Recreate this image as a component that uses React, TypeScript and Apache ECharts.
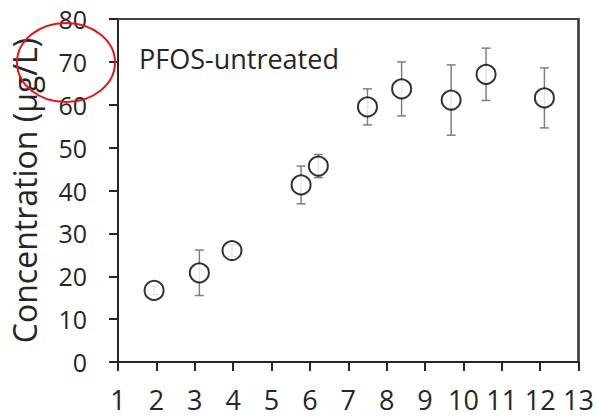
import React, { useEffect, useRef } from "react";
import * as echarts from "echarts";

const xValues = [1.94, 3.12, 3.97, 5.77, 6.22, 7.5, 8.39, 9.68, 10.59, 12.11];
const yValues = [16.7, 20.8, 26.0, 41.3, 45.7, 59.5, 63.7, 61.1, 67.1, 61.6];
const errValues = [1.0, 5.3, 1.4, 4.4, 2.7, 4.2, 6.3, 8.2, 6.1, 7.0];
const seriesLabel = "PFOS-untreated";
const yAxisTitle = "Concentration (μg/L)";

const FONT = "Open Sans";
const AXIS_COLOR = "#262626";

export default function App() {
  const ref = useRef<HTMLDivElement>(null);
  useEffect(() => {
    if (!ref.current) return;
    const chart = echarts.init(ref.current, null, { renderer: "svg" });
    const points = xValues.map((x, i) => [x, yValues[i]]);
    const errData = xValues.map((x, i) => [x, yValues[i], errValues[i]]);
    chart.setOption({
      animation: false,
      backgroundColor: "#fff",
      textStyle: { fontFamily: FONT },
      grid: { left: 114.5, right: 18, top: 19, bottom: 57 },
      xAxis: [
        {
          type: "value",
          min: 1,
          max: 13,
          interval: 1,
          axisLine: { show: true, onZero: false, lineStyle: { color: AXIS_COLOR, width: 2 } },
          axisTick: { show: true, inside: false, length: 9, lineStyle: { color: AXIS_COLOR, width: 2 } },
          axisLabel: { color: AXIS_COLOR, fontSize: 27, lineHeight: 28, fontFamily: FONT, margin: 23 },
          splitLine: { show: false },
        },
        {
          type: "value",
          position: "top",
          min: 1,
          max: 13,
          axisLine: { show: true, onZero: false, lineStyle: { color: "#444", width: 2 } },
          axisTick: { show: false },
          axisLabel: { show: false },
          splitLine: { show: false },
        },
      ],
      yAxis: [
        {
          type: "value",
          min: 0,
          max: 80,
          interval: 10,
          name: yAxisTitle,
          nameLocation: "middle",
          nameGap: 78,
          nameTextStyle: { color: AXIS_COLOR, fontSize: 32, fontFamily: FONT },
          axisLine: { show: true, onZero: false, lineStyle: { color: AXIS_COLOR, width: 2 } },
          axisTick: { show: true, inside: false, length: 9, lineStyle: { color: AXIS_COLOR, width: 2 } },
          axisLabel: { color: AXIS_COLOR, fontSize: 25, fontFamily: FONT, margin: 31 },
          splitLine: { show: false },
        },
        {
          type: "value",
          position: "right",
          min: 0,
          max: 80,
          axisLine: { show: true, onZero: false, lineStyle: { color: "#333", width: 2.5 } },
          axisTick: { show: false },
          axisLabel: { show: false },
          splitLine: { show: false },
        },
      ],
      series: [
        {
          type: "custom",
          xAxisIndex: 0,
          yAxisIndex: 0,
          data: errData,
          encode: { x: 0, y: 1 },
          z: 1,
          renderItem: (params: any, api: any) => {
            const x = api.value(0);
            const y = api.value(1);
            const e = api.value(2);
            const top = api.coord([x, y + e]);
            const bot = api.coord([x, y - e]);
            const w = 4.5;
            const style = { stroke: "#7f7f7f", lineWidth: 1.5 };
            return {
              type: "group",
              children: [
                { type: "line", shape: { x1: top[0], y1: top[1], x2: bot[0], y2: bot[1] }, style },
                { type: "line", shape: { x1: top[0] - w, y1: top[1], x2: top[0] + w, y2: top[1] }, style },
                { type: "line", shape: { x1: bot[0] - w, y1: bot[1], x2: bot[0] + w, y2: bot[1] }, style },
              ],
            };
          },
        },
        {
          type: "scatter",
          xAxisIndex: 0,
          yAxisIndex: 0,
          data: points,
          symbol: "emptyCircle",
          symbolSize: 19,
          z: 2,
          itemStyle: { color: "#000", borderColor: "#000", borderWidth: 2 },
        },
      ],
      graphic: [
        {
          type: "text",
          left: 139,
          top: 45,
          style: { text: seriesLabel, fontSize: 27, fontFamily: FONT, fill: AXIS_COLOR },
        },
        {
          type: "ellipse",
          shape: { cx: 66, cy: 62.5, rx: 49, ry: 39.5 },
          style: { fill: "none", stroke: "#e8141b", lineWidth: 2 },
          z: 100,
        },
      ],
    });
    return () => chart.dispose();
  }, []);
  return (
    <div
      ref={ref}
      style={{ width: 597, height: 419, position: "fixed", left: 0, top: 0 }}
    />
  );
}
